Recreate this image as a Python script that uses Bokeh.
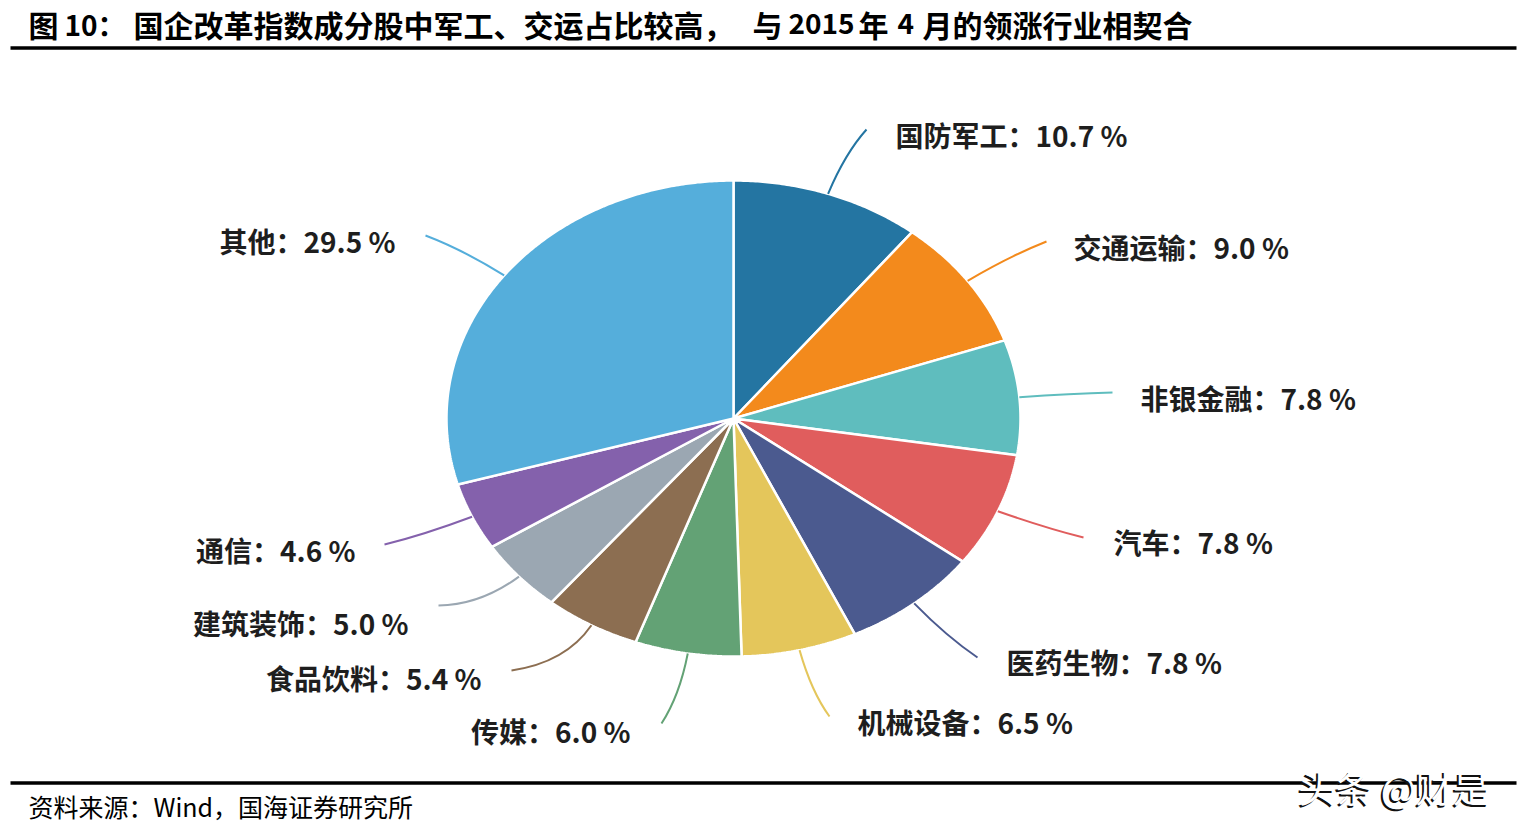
import numpy as np
from bokeh.plotting import figure
from bokeh.models import ColumnDataSource, Range1d
from bokeh.core.properties import value
from bokeh.embed import file_html
from bokeh.resources import INLINE

# ---- data -------------------------------------------------------------
industries = ["国防军工", "交通运输", "非银金融", "汽车", "医药生物", "机械设备",
              "传媒", "食品饮料", "建筑装饰", "通信", "其他"]
shares = [10.7, 9.0, 7.8, 7.8, 7.8, 6.5, 6.0, 5.4, 5.0, 4.6, 29.5]
colors = ["#2475A2", "#F38A1C", "#5FBDBE", "#E05D5D", "#4B5A8F", "#E4C65B",
          "#63A275", "#8C6E51", "#9BA7B2", "#8461AC", "#55AEDB"]

# title is set in runs so the wide report-style spacing is kept
title_parts = ["图", "10：", "国企改革指数成分股中军工、交运占比较高，", "与",
               "2015", "年", "4", "月的领涨行业相契合"]
title_part_x = [28, 64, 133, 752, 788, 858, 897, 922]
title_part_size = ["30px", "28px", "30px", "30px", "28px", "30px", "28px", "30px"]
source_text = "资料来源：Wind，国海证券研究所"
watermark_text = "头条 @财是"

# ---- layout (page pixels, y grows downward) ----------------------------
W, H = 1524, 829
CX, CY = 733, 418          # pie centre
RX, RY = 287, 238          # pie radii (drawn as an ellipse)
# where each leader line ends, and where its label is anchored
line_end_x = [866, 1046, 1112, 1083, 977, 829, 661, 511, 438, 384, 425]
line_end_y = [129, 241, 392, 537, 657, 716, 723, 670, 605, 544, 235]
label_x = [895, 1073, 1140, 1113, 1006, 857, 630, 481, 408, 355, 395]
label_y = [134, 246, 397, 541, 661, 721, 730, 677, 622, 549, 240]
label_align = ["left"] * 6 + ["right"] * 5

CJK = "Noto Sans CJK SC"

p = figure(width=W, height=H, output_backend="svg", toolbar_location=None,
           x_range=Range1d(0, W), y_range=Range1d(H, 0),
           x_axis_type=None, y_axis_type=None, min_border=0,
           outline_line_color=None, background_fill_color="white",
           border_fill_color="white")

# ---- pie slices (clockwise from 12 o'clock) ---------------------------
vals = np.array(shares, dtype=float)
frac = vals / vals.sum()
ends = np.cumsum(frac) * 2 * np.pi
starts = ends - frac * 2 * np.pi
mids = (starts + ends) / 2

xs, ys = [], []
for a0, a1 in zip(starts, ends):
    t = np.linspace(a0, a1, max(8, int((a1 - a0) * 120)))
    xs.append([CX] + list(CX + RX * np.sin(t)) + [CX])
    ys.append([CY] + list(CY - RY * np.cos(t)) + [CY])

pie_src = ColumnDataSource(dict(xs=xs, ys=ys, color=colors))
p.patches("xs", "ys", source=pie_src, fill_color="color",
          line_color="white", line_width=2.5)

# ---- leader lines -----------------------------------------------------
sx = CX + RX * np.sin(mids)
sy = CY - RY * np.cos(mids)
ctl_x = CX + RX * 1.18 * np.sin(mids)
ctl_y = CY - RY * 1.18 * np.cos(mids)
lead_src = ColumnDataSource(dict(x0=sx, y0=sy, x1=line_end_x, y1=line_end_y,
                                 cx=ctl_x, cy=ctl_y, color=colors))
p.quadratic(x0="x0", y0="y0", x1="x1", y1="y1", cx="cx", cy="cy",
            source=lead_src, line_color="color", line_width=2)

# ---- labels -----------------------------------------------------------
labels = [f"{n}：{v:.1f} %" for n, v in zip(industries, shares)]
lab_src = ColumnDataSource(dict(x=label_x, y=label_y, text=labels, align=label_align))
p.text(x="x", y="y", text="text", source=lab_src, text_align="align",
       text_baseline="middle", text_font=value(CJK), text_font_size="28px",
       text_font_style="bold", text_color="#1e1e1e")

# ---- title, rules, source, watermark -----------------------------------
title_src = ColumnDataSource(dict(x=title_part_x, y=[23] * len(title_parts),
                                  text=title_parts, size=title_part_size))
p.text(x="x", y="y", text="text", source=title_src, text_font_size="size",
       text_baseline="middle", text_font=value(CJK),
       text_font_style="bold", text_color="#000000")
p.segment(x0=[10, 10], y0=[47.5, 782.5], x1=[1516, 1516], y1=[47.5, 782.5],
          line_color="#000000", line_width=3.5)
p.text(x=[28], y=[805], text=[source_text], text_baseline="middle",
       text_font=value(CJK), text_font_size="25px", text_color="#000000")

p.text(x=[1296], y=[788.5], text=[watermark_text], text_baseline="middle",
       text_font=value(CJK), text_font_size="37px", text_color="#111111")
p.text(x=[1298], y=[786], text=[watermark_text], text_baseline="middle",
       text_font=value(CJK), text_font_size="37px", text_color="#ffffff")

open("out.html", "w").write(file_html(p, INLINE))
